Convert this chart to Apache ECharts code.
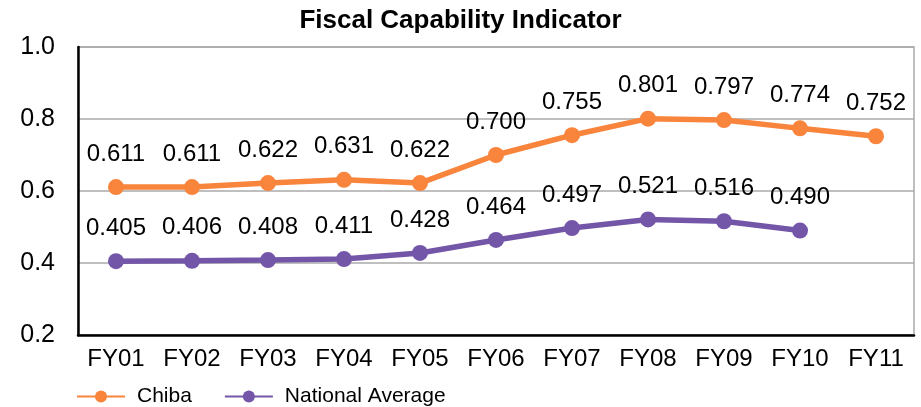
<!DOCTYPE html>
<html>
<head>
<meta charset="utf-8">
<script src="https://cdn.jsdelivr.net/npm/echarts@6/dist/echarts.min.js"></script>
<style>
  html, body { margin: 0; padding: 0; background: #fff; }
  #chart { width: 921px; height: 407px; }
</style>
</head>
<body>
<div id="chart"></div>
<script>
const years = ['FY01', 'FY02', 'FY03', 'FY04', 'FY05', 'FY06', 'FY07', 'FY08', 'FY09', 'FY10', 'FY11'];
const chiba = [0.611, 0.611, 0.622, 0.631, 0.622, 0.700, 0.755, 0.801, 0.797, 0.774, 0.752];
const nationalAvg = [0.405, 0.406, 0.408, 0.411, 0.428, 0.464, 0.497, 0.521, 0.516, 0.490, null];

const font = '"Liberation Sans", Arial, sans-serif';
const chart = echarts.init(document.getElementById('chart'));

// shared look for both series
function lineSeries(name, data, color) {
  return {
    name,
    type: 'line',
    data,
    symbol: 'circle',
    symbolSize: 16,
    lineStyle: { width: 5.5, color },
    itemStyle: { color },
    label: {
      show: true,
      position: 'top',
      distance: 13,
      color: '#000',
      fontFamily: font,
      fontSize: 24,
      formatter: p => p.value.toFixed(3)
    }
  };
}

chart.setOption({
  animation: false,
  backgroundColor: '#fff',
  title: {
    text: 'Fiscal Capability Indicator',
    left: 'center',
    top: 3,
    textStyle: { fontFamily: font, fontSize: 26, fontWeight: 'bold', color: '#000' }
  },
  legend: {
    left: 71,
    top: 381,
    itemWidth: 48,
    itemHeight: 15,
    itemGap: 32,
    textStyle: { fontFamily: font, fontSize: 21, color: '#000', padding: [0, 0, 0, 7] },
    data: ['Chiba', 'National Average']
  },
  grid: {
    left: 78, right: 7, top: 47, bottom: 72,
    show: true, borderColor: '#aaa', borderWidth: 1.5
  },
  xAxis: {
    type: 'category',
    data: years,
    axisLine: { lineStyle: { color: '#000', width: 2.5 } },
    axisTick: { show: false },
    axisLabel: { color: '#000', fontFamily: font, fontSize: 24, margin: 12 }
  },
  yAxis: {
    type: 'value',
    min: 0.2, max: 1.0, interval: 0.2,
    axisLine: { show: true, lineStyle: { color: '#000', width: 2.5 } },
    axisTick: { show: false },
    splitLine: { lineStyle: { color: '#aaa', width: 1.5 } },
    axisLabel: { color: '#000', fontFamily: font, fontSize: 25, margin: 23, formatter: v => v.toFixed(1) }
  },
  series: [
    lineSeries('Chiba', chiba, '#F9843C'),
    lineSeries('National Average', nationalAvg, '#7356A8')
  ]
});
</script>
</body>
</html>
